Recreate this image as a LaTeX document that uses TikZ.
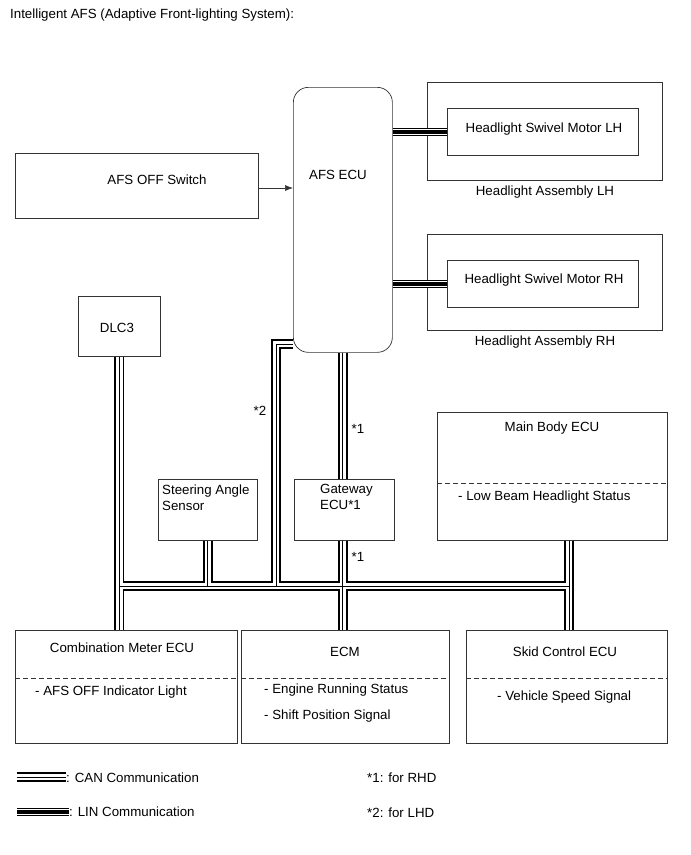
\documentclass[tikz,border=0pt]{standalone}
\usepackage{fontspec}
\setmainfont{Liberation Sans}
\usetikzlibrary{arrows.meta,positioning,calc}
\tikzset{
  % plain ECU outline, placed by its top-left corner
  unit/.style = {rectangle, draw=black!80, line width=0.7pt, anchor=north west, inner sep=0pt},
  txt/.style  = {font=\fontsize{13.3}{16}\selectfont, inner sep=0pt},
  sep/.style  = {draw=black!80, line width=0.7pt, dash pattern=on 5pt off 3pt},
  % CAN: thick - thin - thick
  can/.style  = {line width=10pt, draw=black, postaction={draw=white, line width=6.5pt},
                 postaction={draw=black, line width=0.8pt}},
  % LIN: thin - thick - thin
  lin/.style  = {line width=8pt, draw=black, postaction={draw=white, line width=6pt},
                 postaction={draw=black, line width=4pt}},
  sig/.style  = {-{Latex[length=8pt,width=6pt]}, line width=0.6pt, draw=black!80},
}

\begin{document}
\begin{tikzpicture}[x=1pt,y=-1pt]
\useasboundingbox (0,0) rectangle (691,855);
\node[txt, anchor=west] (title) at (10,15) {Intelligent AFS (Adaptive Front-lighting System):};
% units
\node[unit, minimum width=243pt, minimum height=65pt] (afssw) at (15,153) {};
\node[unit, minimum width=99pt, minimum height=265pt, rounded corners=15pt] (afsecu) at (293,87) {};
\node[unit, minimum width=235pt, minimum height=98pt] (hlLH) at (427,82) {};
\node[unit, minimum width=191pt, minimum height=47pt] (swLH) at (447,108) {};
\node[unit, minimum width=235pt, minimum height=96pt] (hlRH) at (427,234) {};
\node[unit, minimum width=191pt, minimum height=47pt] (swRH) at (447,260) {};
\node[unit, minimum width=82pt, minimum height=60pt] (dlc) at (78,296) {};
\node[unit, minimum width=99pt, minimum height=61pt] (sas) at (158,479) {};
\node[unit, minimum width=100pt, minimum height=61pt] (gw) at (294,479) {};
\node[unit, minimum width=230pt, minimum height=128pt] (mbody) at (437,412) {};
\node[unit, minimum width=222pt, minimum height=113pt] (cmb) at (15,630) {};
\node[unit, minimum width=208pt, minimum height=113pt] (ecm) at (241,630) {};
\node[unit, minimum width=201pt, minimum height=113pt] (skid) at (466,630) {};
% labels
\node[txt] (afsswT) at (157,180) {AFS OFF Switch};
\node[txt] (afsT) at (338,175) {AFS ECU};
\node[txt] (swLHT) at (544,129) {Headlight Swivel Motor LH};
\node[txt] (hlLHT) at (545,192) {Headlight Assembly LH};
\node[txt] (swRHT) at (544,280) {Headlight Swivel Motor RH};
\node[txt] (hlRHT) at (545,342) {Headlight Assembly RH};
\node[txt] (dlcT) at (117,328) {DLC3};
\node[txt, anchor=west, align=left] (sasT) at (162,497.5) {Steering Angle\\Sensor};
\node[txt, anchor=west, align=left] (gwT) at (320,496.5) {Gateway\\ECU*1};
\node[txt] (mbT) at (552,428) {Main Body ECU};
\draw[sep] (mbody.west |- 0,483) -- (mbody.east |- 0,483);
\node[txt, anchor=west] (mbS) at (458,497) {- Low Beam Headlight Status};
\node[txt] (cmbT) at (122,648) {Combination Meter ECU};
\draw[sep] (cmb.west |- 0,678) -- (cmb.east |- 0,678);
\node[txt, anchor=west] (cmbS) at (35,692) {- AFS OFF Indicator Light};
\node[txt] (ecmT) at (345,652) {ECM};
\draw[sep] (ecm.west |- 0,678) -- (ecm.east |- 0,678);
\node[txt, anchor=west] (ecmS1) at (264,690) {- Engine Running Status};
\node[txt, anchor=west] (ecmS2) at (264,716) {- Shift Position Signal};
\node[txt] (skidT) at (565,652) {Skid Control ECU};
\draw[sep] (skid.west |- 0,678) -- (skid.east |- 0,678);
\node[txt, anchor=west] (skidS) at (497,697) {- Vehicle Speed Signal};
\node[txt] (star2) at (260,411) {*2};
\node[txt] (star1a) at (358,429) {*1};
\node[txt] (star1b) at (358,557) {*1};
% buses
\coordinate (trL) at (119,586);
\coordinate (trR) at (569,586);
\coordinate (ecuL) at (293,344);
\coordinate (lhd) at (276,586);
\draw[can] (trL) -- (trR)
  (dlc.south) -- (dlc.south |- cmb.north)
  (sas.south) -- (sas.south |- trL)
  (ecuL) -| (lhd)
  (afsecu.south) -- (afsecu.south |- gw.north)
  (afsecu.south |- gw.south) -- (afsecu.south |- ecm.north)
  (trR |- mbody.south) -- (trR |- skid.north);
\draw[lin] (afsecu.east |- swLH.west) -- (swLH.west)
  (afsecu.east |- swRH.west) -- (swRH.west);
\coordinate (swout) at (258,188);
\draw[sig] (swout) -- (swout -| afsecu.west);
% legend
\coordinate (canA) at (17,777);
\coordinate (canB) at (66,777);
\draw[can] (canA) -- (canB);
\node[txt, anchor=west] (canT) at (66,778) {: CAN Communication};
\coordinate (linA) at (17,812);
\coordinate (linB) at (69,812);
\draw[lin] (linA) -- (linB);
\node[txt, anchor=west] (linT) at (69,812) {: LIN Communication};
\node[txt, anchor=west] (rhd) at (367,778) {*1: for RHD};
\node[txt, anchor=west] (lhdT) at (367,813) {*2: for LHD};
\end{tikzpicture}
\end{document}
